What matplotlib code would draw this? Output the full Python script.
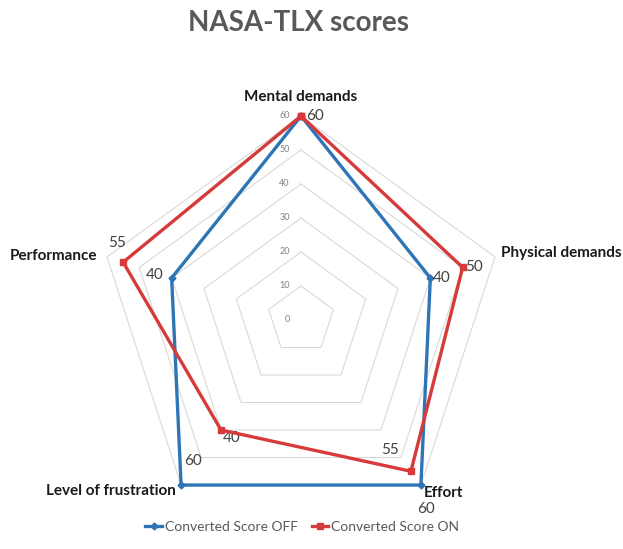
import numpy as np
import matplotlib
matplotlib.use("Agg")
import matplotlib.pyplot as plt

plt.rcParams['font.family'] = ['Lato', 'DejaVu Sans']

categories = ["Mental demands", "Physical demands", "Effort", "Level of frustration", "Performance"]
score_off = [60, 40, 60, 60, 40]
score_on = [60, 50, 55, 40, 55]
ticks = [0, 10, 20, 30, 40, 50, 60]

blue = '#2E75B6'
red = '#D63A3A'

n = len(categories)
theta = np.arange(n) * 2 * np.pi / n
th_closed = np.append(theta, theta[0])

fig = plt.figure(figsize=(6.23, 5.49), dpi=100)
ax = fig.add_axes([97 / 623, 25 / 549, 408 / 623, 408 / 549], projection='polar')
ax.set_theta_zero_location('N')
ax.set_theta_direction(-1)
ax.set_ylim(0, 60)
ax.grid(False)
ax.set_xticks([])
ax.set_yticks([])
ax.spines['polar'].set_visible(False)
ax.patch.set_alpha(0)

# pentagon grid
for t in ticks[1:]:
    ax.plot(th_closed, [t] * (n + 1), color='#d9d9d9', lw=0.8, zorder=1, clip_on=False)

# tick labels on the vertical axis
for t in ticks:
    ax.annotate(str(t), (0, t), xytext=(-8, 0), textcoords='offset points',
                ha='right', va='center', fontsize=6.5, color='#808080')

# series
ax.plot(th_closed, score_off + score_off[:1], color=blue, lw=2.4, marker='D', ms=3.5,
        label='Converted Score OFF', zorder=3, clip_on=False)
ax.plot(th_closed, score_on + score_on[:1], color=red, lw=2.4, marker='s', ms=4,
        label='Converted Score ON', zorder=4, clip_on=False)

# category labels
cat_offsets = [(0, 14, 'center'), (4, 3, 'left'), (2, -6, 'left'), (-4, -4, 'right'), (-7, 1, 'right')]
for th, name, (dx, dy, ha) in zip(theta, categories, cat_offsets):
    ax.annotate(name, (th, 60), xytext=(dx, dy), textcoords='offset points',
                ha=ha, va='center', fontsize=11, fontweight='bold', color='#1a1a1a')

# data labels
off_offsets = [None, (2, 0, 'left'), (4, -17, 'center'), (2, 17, 'left'), (-6, 2, 'right')]
on_offsets = [(4, 0, 'left'), (2, 0, 'left'), (-9, 15, 'right'), (1, -6, 'left'), (2, 14, 'right')]
for vals, offs in [(score_off, off_offsets), (score_on, on_offsets)]:
    for th, v, o in zip(theta, vals, offs):
        if o is None:
            continue
        dx, dy, ha = o
        ax.annotate(str(v), (th, v), xytext=(dx, dy), textcoords='offset points',
                    ha=ha, va='center', fontsize=11, color='#404040')

fig.text(298 / 623, 1 - 23 / 549, "NASA-TLX scores", ha='center', va='center',
         fontsize=20, fontweight='bold', color='#595959')

leg = fig.legend(loc='center', bbox_to_anchor=(0.485, 1 - 527 / 549), ncol=2, frameon=False,
                 fontsize=10, handlelength=1.2, columnspacing=1.0, handletextpad=0.2)
for txt in leg.get_texts():
    txt.set_color('#595959')

fig.savefig('out.png', dpi=100)
